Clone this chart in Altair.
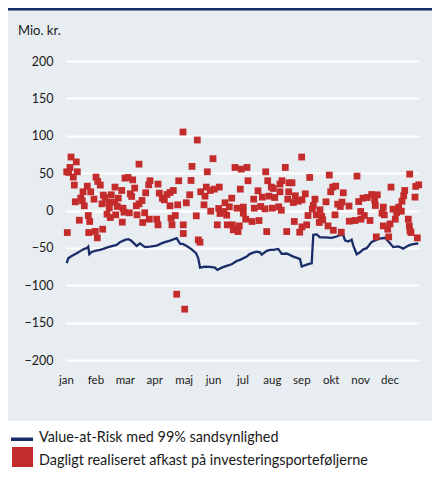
import json
import altair as alt
import pandas as pd

# ---------------- data ----------------
MONTHS = ["jan", "feb", "mar", "apr", "maj", "jun", "jul", "aug", "sep", "okt", "nov", "dec"]
YEAR_LEN = 353  # x position unit: the year spans 353 units, 12 equal months
Y_TICKS = [200, 150, 100, 50, 0, -50, -100, -150, -200]
Y_TITLE = "Mio. kr."
LEGEND_LABELS = ["Value-at-Risk med 99% sandsynlighed",
                 "Dagligt realiseret afkast på investeringsporteføljerne"]

VAR_DAY = [0.7, 2.3, 5.7, 10.7, 14.7, 17.3, 21.3, 22.3, 23.3, 25.7, 29, 34, 37.3, 40.7, 44,
           50.7, 54, 59, 62.3, 65, 68, 70.7, 74, 79, 84, 90.7, 97.3, 104, 110.7, 114, 117.3,
           120.7, 125.7, 130, 132.3, 134, 139, 144, 149, 151.3, 155.7, 160.7, 165.7, 170.7,
           174, 180.7, 184, 187.3, 190.7, 194, 195.7, 200.7, 204, 207.3, 212.3, 215.7, 220.7,
           227.3, 232.3, 234, 235.7, 240.7, 244, 245.7, 247.3, 250.7, 254, 259, 265.7, 270.7,
           274, 277.3, 279, 282.3, 285.7, 287.3, 290.7, 294, 297.3, 300.7, 305.7, 312.3, 319,
           324, 327.3, 332.3, 337.3, 340.7, 344, 347.3, 352.3]
VAR_VAL = [-70.5, -64, -60.8, -57.2, -54, -52, -50, -48.5, -58.5, -55.5, -54, -52.7, -51.4,
           -49.6, -48.3, -46, -42.4, -39.3, -38.4, -40, -44, -47.5, -44, -49, -48.3, -47, -43,
           -40.2, -37, -44.5, -45, -47.5, -52, -57, -64, -76.5, -75, -75.5, -76.5, -79.5,
           -76.4, -74.2, -72, -67.5, -66, -61.7, -58, -56.3, -55, -56, -59, -54, -52.7, -52.7,
           -51.4, -58, -57.5, -61.7, -64, -65, -75, -72.5, -71, -70.6, -32.6, -32, -36, -36,
           -36.5, -34.8, -32.6, -33, -40, -41.5, -39, -47, -58.5, -56, -52, -50.4, -42, -38,
           -36.5, -43.8, -49, -48, -51, -48.3, -46, -45, -44]

RET_DAY = [5, 10.3, 4, 0.7, 2.7, 11.3, 7.3, 8.3, 30, 31.7, 34.3, 21.3, 17, 24.7, 49, 55.7, 9.3,
           14.7, 16.3, 18.3, 28, 37.3, 39, 45.3, 42.7, 36, 49, 52.3, 43.3, 51.3, 57, 41, 44.3,
           49.7, 56.3, 22.3, 23.7, 13.3, 1.3, 22.7, 29.3, 31.3, 36.7,
           73, 59, 62, 66.7, 84, 82.7, 92, 112.7, 68.7, 64.3, 65.7, 79.7, 93.3, 96.3, 98.3, 101,
           104, 107.3, 76, 73, 70.3, 58, 63.3, 71, 78.7, 104, 111.7, 105, 109.3, 76.7, 83.3,
           90.7, 92, 106, 117.3, 117.3, 110.7, 118.7,
           117, 131.3, 147, 126, 141.3, 169, 175.3, 125, 140.3, 134.7, 144.3, 148.3, 153.3,
           174.3, 123.7, 139, 120.3, 138, 159, 165.7, 163.3, 152.7, 171, 177.3, 144.7, 154, 158,
           160.7, 130.3, 177.3, 151.3, 161.3, 166.3, 173.3, 167.3, 172, 132.3, 134,
           235.7, 181, 199.7, 219.3, 182, 201.7, 192, 205.3, 207.3, 214, 216, 223, 226, 214,
           222.7, 187.7, 196.3, 203, 208.7, 221.7, 229.3, 227.3, 232.3, 236, 188.3, 194.7, 199,
           206.3, 212.7, 215.3, 179.7, 186, 193, 200.7, 220.7, 228.3, 233.7, 236,
           243.7, 263.3, 291, 266.7, 269.7, 264.7, 239.3, 277.3, 249, 247.3, 246.3, 260, 276,
           271.7, 274.3, 283, 292.7, 297, 254, 269, 294.7, 242, 250.3, 255.7, 256.7, 253.3,
           283.3, 289, 295, 240.7, 262, 267.3, 275.3,
           343.7, 352.7, 349.7, 325, 338.7, 337.7, 349, 336, 311.3, 305.7, 301.3, 308.7, 309.3,
           317.3, 327, 332.7, 335.3, 330.7, 316, 318.3, 298.3, 304, 329.3, 342.3, 324, 317.3,
           343.3, 321.7, 344, 345, 310.3, 322.7, 351.3]
RET_VAL = [71.5, 65, 57.6, 51.8, 51, 51.8, 44.7, 34, 44.7, 38.9, 34, 32.6, 25, 25, 31.3, 26.8,
           11.6, 16.5, 13, 6.3, 15.2, 20.6, 17.4, 21, 11.2, 8.9, 11.2, 16.5, 3.6, 5.4, 3.1, -4.9,
           -9.4, -5.8, -15.6, -6.7, -14.7, -13, -29.5, -29.5, -28, -36.6, -25,
           62, 43.3, 44.2, 41, 39.8, 34.4, 35.3, 39.8, 30, 22.3, 18.8, 23.7, 23.2, 16.5, 14.3,
           21.4, 24.1, 26.8, 13.4, 8.9, 6.3, -2.2, -3.1, -5.8, -3.1, 6.3, 7.6, -10.3, -6.7, -16,
           -11.6, -11.6, -19.2, -19.2, -19.2, -30.8, -112, -132,
           105, 94.3, 69.3, 59, 51.8, 57.6, 55.4, 40.2, 31.3, 25, 26.8, 28.6, 31.3, 28.6, 21,
           19.2, 10.3, 7.6, 10.3, 16.5, 4.9, 2.7, 3.1, 4.5, -0.9, -4, -1.3, -6.3, -7.1, -3.6,
           -19.2, -19.2, -19.2, -20.6, -25.9, -28.2, -39.3, -42.4,
           71.5, 57.6, 51.8, 57.6, 39.8, 39.8, 26.4, 31.3, 29.5, 35.3, 39.8, 37.1, 37.1, 25, 25,
           15.2, 17.9, 19.2, 17.4, 15.2, 19.7, 10.7, 12.5, 14.3, 3.1, 5.4, 2.2, 3.1, 4.9, 0.4,
           -11.6, -14.7, -13.4, -28.2, -28.2, -14.7, -29, -21.9,
           44.2, 47.4, 46, 31.3, 32.6, 25, 22.3, 23.7, 15.2, 7, 2, 11.6, 11.2, 8.5, 5.4, 6, 12,
           16.5, 0.9, -5.8, -1.3, -6.7, -5.8, -8, -12.5, -16, -14.3, -13.4, -11.6, -19.2, -20.6,
           -26.4, -29,
           48.7, 34.4, 32.2, 31.3, 26.8, 19.7, 17.9, 12.5, 21, 21.4, 17.4, 13.9, 6.7, 4.5, 1.8,
           4.5, -0.9, -2.7, -3.6, -5.8, -6.7, -13.4, -11.6, -11.6, -17.9, -20.6, -20.6, -25,
           -27.3, -29.5, -35.3, -35.3, -36.6]

# ---------------- styling ----------------
NAVY = "#1a2d69"
RED = "#c42b2b"
PANEL = "#e8edf1"
TEXT = "#1a1a1a"
FONT = "Lato"

W, H = 353, 299
PAD_L, PAD_T, PAD_R, PAD_B = 58, 53, 13, 108   # canvas 424 x 460 fits the 8px page margin

var_df = pd.DataFrame({"dag": VAR_DAY, "mio": VAR_VAL})
ret_df = pd.DataFrame({"dag": RET_DAY, "mio": RET_VAL})
one = pd.DataFrame({"k": [0]})

month_vals = [round(k * YEAR_LEN / 12, 3) for k in range(12)]
label_expr = f"{json.dumps(MONTHS)}[round(datum.value / {YEAR_LEN / 12})]"

x_enc = alt.X("dag:Q",
              scale=alt.Scale(domain=[0, YEAR_LEN], nice=False, zero=False),
              axis=alt.Axis(values=month_vals, labelExpr=label_expr, grid=False,
                            domain=False, ticks=False, tickSize=0, labelPadding=14.5,
                            labelFlush=False, labelOverlap=False, labelFontSize=11.5,
                            labelFont=FONT, labelColor=TEXT, title=None))
y_enc = alt.Y("mio:Q",
              scale=alt.Scale(domain=[-200, 200], nice=False),
              axis=alt.Axis(values=Y_TICKS, grid=True, gridColor="white", gridWidth=2,
                            domain=False, ticks=False, tickSize=0, labelPadding=13,
                            labelFlush=False, labelOverlap=False, labelFontSize=12.5,
                            labelFont=FONT, labelColor=TEXT, title=None))

# white area below the grey panel (legend area) - kept inside the canvas
white_area = alt.Chart(one).mark_rect(color="white").encode(
    x=alt.value(-PAD_L), x2=alt.value(W + PAD_R), y=alt.value(360), y2=alt.value(H + PAD_B))
# navy bar on top, at the canvas top edge
top_bar = alt.Chart(one).mark_rect(color=NAVY).encode(
    x=alt.value(-PAD_L), x2=alt.value(W + PAD_R), y=alt.value(-PAD_T), y2=alt.value(-PAD_T + 2.5))

line = alt.Chart(var_df).mark_line(color=NAVY, strokeWidth=2.3).encode(x=x_enc, y=y_enc)
pts = alt.Chart(ret_df).mark_square(color=RED, size=46, opacity=1).encode(x=x_enc, y=y_enc)

y_title = alt.Chart(one).mark_text(text=Y_TITLE, align="left", baseline="alphabetic",
                                   font=FONT, fontSize=13, color=TEXT).encode(
    x=alt.value(-48), y=alt.value(-26))

leg_line = alt.Chart(one).mark_rect(color=NAVY).encode(
    x=alt.value(-55), x2=alt.value(-33), y=alt.value(376.5), y2=alt.value(380))
leg_sq = alt.Chart(one).mark_rect(color=RED).encode(
    x=alt.value(-54), x2=alt.value(-33), y=alt.value(386), y2=alt.value(406))
leg_t1 = alt.Chart(one).mark_text(text=LEGEND_LABELS[0], align="left", baseline="alphabetic",
                                  font=FONT, fontSize=14.4, color=TEXT).encode(
    x=alt.value(-27), y=alt.value(380.5))
leg_t2 = alt.Chart(one).mark_text(text=LEGEND_LABELS[1], align="left", baseline="alphabetic",
                                  font=FONT, fontSize=14.4, color=TEXT).encode(
    x=alt.value(-27), y=alt.value(403.5))

chart = alt.layer(white_area, top_bar, line, pts, y_title,
                  leg_line, leg_sq, leg_t1, leg_t2).properties(
    width=W, height=H,
    autosize=alt.AutoSizeParams(type="none"),
    padding={"left": PAD_L, "top": PAD_T, "right": PAD_R, "bottom": PAD_B},
    background=PANEL,
).configure_view(stroke=None)

chart.save("out.html", embed_options={"renderer": "svg", "actions": False})
